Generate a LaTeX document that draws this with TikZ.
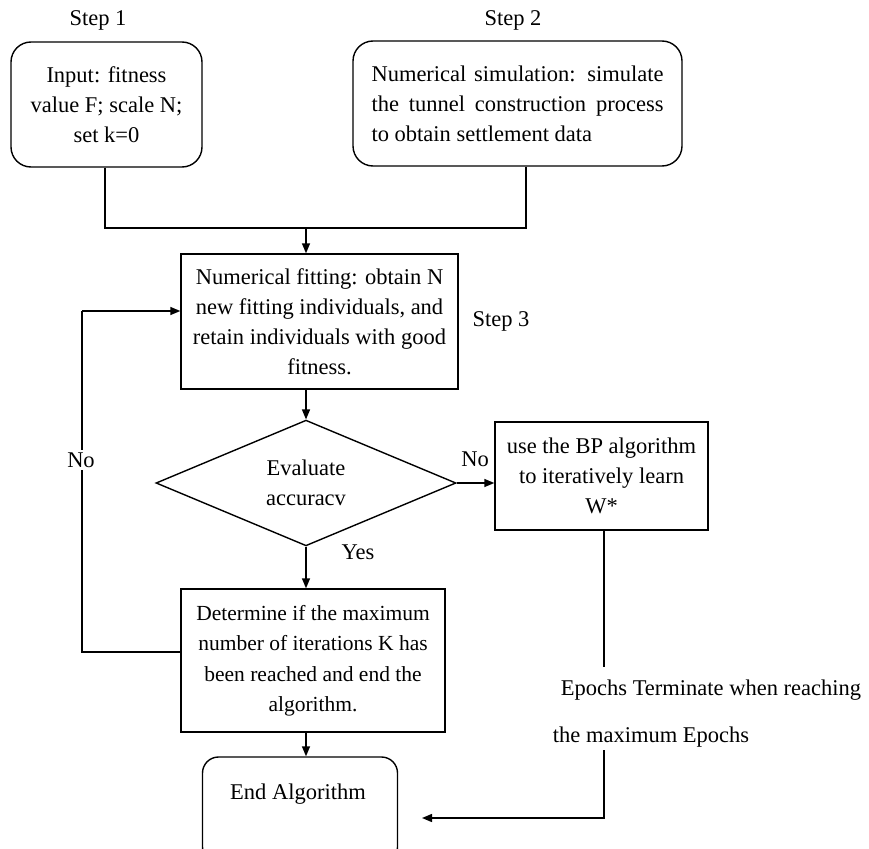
\documentclass[tikz,border=0pt]{standalone}
\usepackage{fontspec}
\setmainfont{Liberation Serif}
\usetikzlibrary{shapes.geometric,arrows.meta}
\begin{document}
\begin{tikzpicture}[x=1pt,y=-1pt,
  every node/.style={font=\fontsize{22.5}{30}\selectfont, inner sep=0pt},
  rbox/.style={draw, line width=1.4pt, rounded corners=20pt, align=center},
  sbox/.style={draw, line width=1.4pt, align=center},
  conn/.style={line width=1.4pt},
  arr/.style={conn, -{Triangle[length=10pt,width=8pt]}},
  lbl/.style={fill=white, inner sep=3pt}]
\clip (0,0) rectangle (869,848);
% step labels
\node (st1) at (98,20) {Step 1};
\node (st2) at (513,20) {Step 2};
\node (st3) at (501,321) {Step 3};
% boxes
\node[rbox, minimum width=191pt, minimum height=125pt] (s1) at (106.5,104.5)
  {Input: fitness\\ value F; scale N;\\ set k=0};
\node[rbox, minimum width=329pt, minimum height=125pt] (s2) at (517.5,103.5)
  {\makebox[292pt][s]{Numerical simulation: simulate}\\
   \makebox[292pt][s]{the tunnel construction process}\\
   \makebox[292pt][l]{to obtain settlement data}};
\node[sbox, minimum width=277pt, minimum height=135pt] (s3) at (319.5,321.5)
  {Numerical fitting: obtain N\\ new fitting individuals, and\\ retain individuals with good\\ fitness.};
\node[draw, line width=1.4pt, diamond, minimum width=300pt, minimum height=122pt, align=center] (dia) at (306,483)
  {Evaluate\\ accuracv};
\node[sbox, minimum width=213pt, minimum height=108pt] (bp) at (601.5,476)
  {use the BP algorithm\\ to iteratively learn\\ W*};
\node[sbox, minimum width=264pt, minimum height=143pt, font=\fontsize{21.5}{30.5}\selectfont] (det) at (313,660.5)
  {Determine if the maximum\\ number of iterations K has\\ been reached and end the\\ algorithm.};
\node[draw, line width=1.4pt, rounded corners=16pt, minimum width=195pt, minimum height=106pt] (end) at (300,810) {};
\node (endt) at (298,794) {End Algorithm};
% coordinates
\coordinate (j) at (306,228);
\coordinate (ep1) at (604,667);
\coordinate (ep2) at (604,750);
\coordinate (ec) at (604,818);
\coordinate (ein) at (422,818);
\coordinate (lb) at (82,652);
\coordinate (lt) at (82,311);
\coordinate (ds) at (det.south -| dia.south);
% connectors
\draw[conn] (s1.south -| 105,0) |- (j);
\draw[conn] (s2.south -| 526,0) |- (j);
\draw[arr] (j) -- (j |- s3.north);
\draw[arr] (s3.south -| dia.north) -- (dia.north);
\draw[arr] (dia.east) -- (dia.east -| bp.west);
\draw[arr] (dia.south) -- (dia.south |- det.north);
\draw[arr] (ds) -- (ds |- end.north);
\draw[conn] (det.west |- lb) -- (lb) -- (lt);
\draw[arr] (lt) -- (lt -| s3.west);
\draw[conn] (bp.south -| ep1) -- (ep1);
\draw[arr] (ep2) -- (ec) -- (ein);
% labels
\node[lbl] (nol) at (81,460) {No};
\node (nor) at (475,459) {No};
\node (yes) at (358,552) {Yes};
\node (epa) at (711,690) {Epochs Terminate when reaching};
\node (epb) at (651,737) {the maximum Epochs};
\end{tikzpicture}
\end{document}
